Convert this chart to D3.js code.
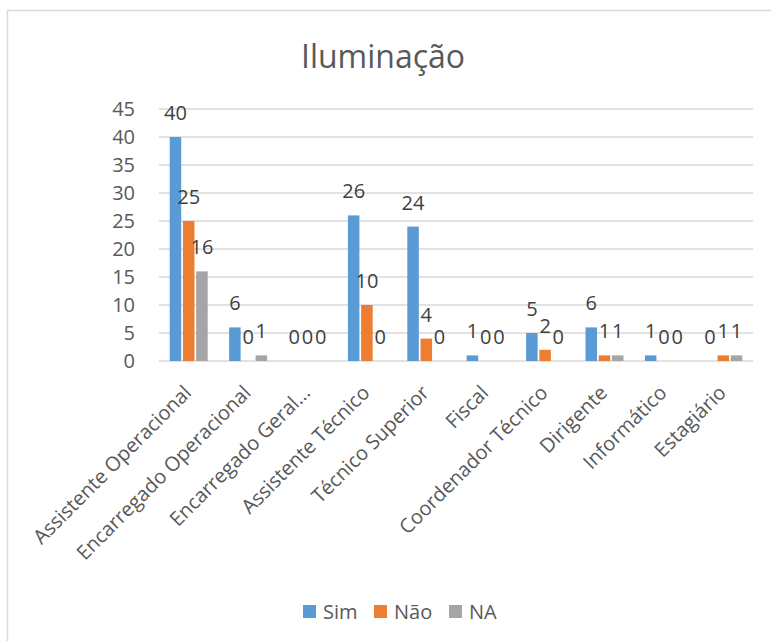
<!DOCTYPE html>
<html>
<head>
<meta charset="utf-8">
<script src="https://cdn.jsdelivr.net/npm/d3@7/dist/d3.min.js"></script>
<style>
  html, body { margin: 0; padding: 0; background: #fff; }
  svg { display: block; }
  text { font-family: "Open Sans", sans-serif; }
</style>
</head>
<body>
<svg id="chart" width="771" height="641"></svg>
<script>
const categories = ["Assistente Operacional", "Encarregado Operacional", "Encarregado Geral...", "Assistente Técnico", "Técnico Superior", "Fiscal", "Coordenador Técnico", "Dirigente", "Informático", "Estagiário"];
const seriesNames = ["Sim", "Não", "NA"];
const simValues = [40, 6, 0, 26, 24, 1, 5, 6, 1, 0];
const naoValues = [25, 0, 0, 10, 4, 0, 2, 1, 0, 1];
const naValues  = [16, 1, 0, 0, 0, 0, 0, 1, 0, 1];
const yTicks = [0, 5, 10, 15, 20, 25, 30, 35, 40, 45];
const colors = ["#5B9BD5", "#ED7D31", "#A5A5A5"];
const title = "Iluminação";

const seriesValues = [simValues, naoValues, naValues];

const svg = d3.select("#chart");

// outer frame
svg.append("rect")
  .attr("x", 7.5).attr("y", 10.5)
  .attr("width", 900).attr("height", 900)
  .attr("fill", "none").attr("stroke", "#d9d9d9").attr("stroke-width", 1.5);

const plotLeft = 159, plotRight = 753, plotTop = 109, plotBottom = 361;

const x = d3.scaleBand().domain(categories).range([plotLeft, plotRight]).padding(0);
const xs = d3.scaleBand().domain(seriesNames).range([10.7, x.bandwidth() - 10.7]).paddingInner(0.13);
const y = d3.scaleLinear().domain([0, 45]).range([plotBottom, plotTop]);

// title
svg.append("text")
  .attr("x", 383).attr("y", 68)
  .attr("text-anchor", "middle")
  .attr("font-size", 32)
  .attr("fill", "#595959")
  .text(title);

// gridlines
svg.append("g").selectAll("line")
  .data(yTicks)
  .join("line")
  .attr("x1", plotLeft).attr("x2", plotRight)
  .attr("y1", d => y(d)).attr("y2", d => y(d))
  .attr("stroke", "#d9d9d9").attr("stroke-width", 1.5);

// y axis labels
svg.append("g").selectAll("text")
  .data(yTicks)
  .join("text")
  .attr("x", 135).attr("y", d => y(d))
  .attr("dy", "0.36em")
  .attr("text-anchor", "end")
  .attr("font-size", 20)
  .attr("fill", "#595959")
  .text(d => d);

// bars
const data = [];
categories.forEach((c, i) => {
  seriesNames.forEach((s, j) => {
    data.push({ cat: c, series: s, value: seriesValues[j][i], color: colors[j] });
  });
});

svg.append("g").selectAll("rect")
  .data(data)
  .join("rect")
  .attr("x", d => x(d.cat) + xs(d.series))
  .attr("width", xs.bandwidth())
  .attr("y", d => y(d.value))
  .attr("height", d => y(0) - y(d.value))
  .attr("fill", d => d.color);

// value labels
svg.append("g").selectAll("text")
  .data(data)
  .join("text")
  .attr("x", d => x(d.cat) + xs(d.series) + xs.bandwidth() / 2)
  .attr("y", d => y(d.value) - 17)
  .attr("text-anchor", "middle")
  .attr("font-size", 20)
  .attr("fill", "#404040")
  .text(d => d.value);

// x axis labels
svg.append("g").selectAll("text")
  .data(categories)
  .join("text")
  .attr("transform", d => `translate(${x(d) + x.bandwidth() / 2 + 4},394) rotate(-45)`)
  .attr("text-anchor", "end")
  .attr("font-size", 20)
  .attr("fill", "#595959")
  .text(d => d);

// legend
const legendX = [303, 374, 449];
const lg = svg.append("g").selectAll("g")
  .data(seriesNames)
  .join("g")
  .attr("transform", (d, i) => `translate(${legendX[i]},0)`);
lg.append("rect")
  .attr("x", 0).attr("y", 605)
  .attr("width", 13).attr("height", 13)
  .attr("fill", (d, i) => colors[i]);
lg.append("text")
  .attr("x", 20).attr("y", 619)
  .attr("font-size", 20)
  .attr("fill", "#595959")
  .text(d => d);
</script>
</body>
</html>
